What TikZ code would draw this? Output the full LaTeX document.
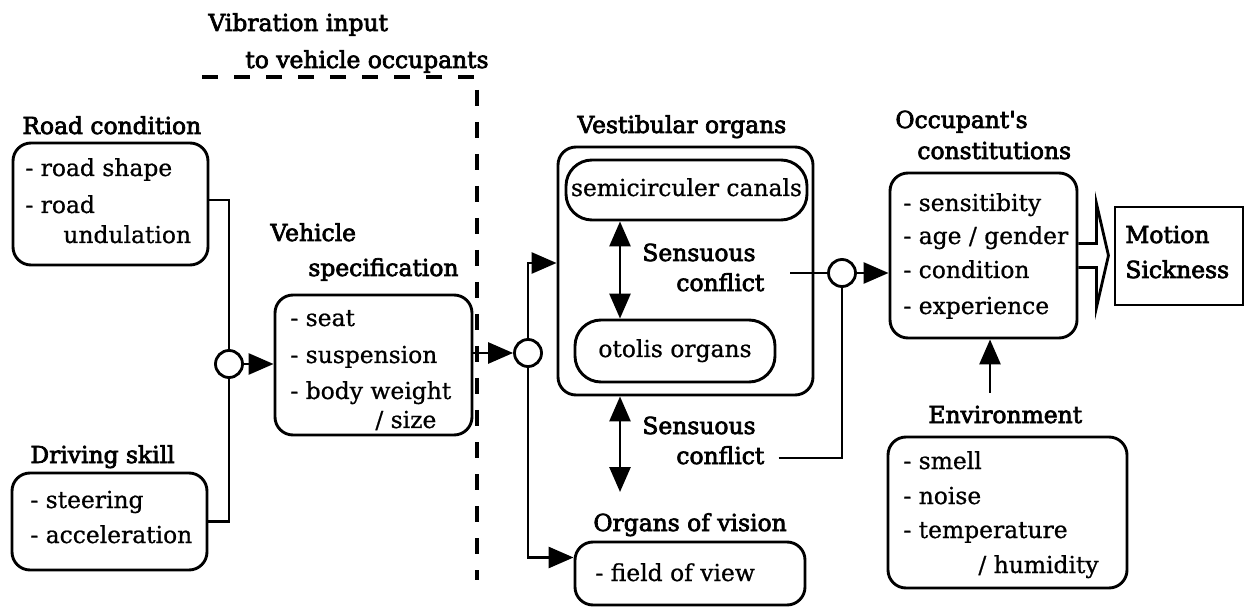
\documentclass[tikz,border=0pt]{standalone}
\usepackage{fontspec}
\setmainfont{DejaVu Serif}
\newfontfamily\itemfont{DejaVu Serif}[FakeBold=0.8]
\newfontfamily\titlefont{DejaVu Serif}[FakeBold=3]
\usetikzlibrary{arrows.meta,fit,calc}
\tikzset{
 rbox/.style={draw, line width=1.45pt, rounded corners=9pt, inner sep=0pt},
 pill/.style={draw, line width=1.45pt, rounded corners=13pt, inner sep=0pt},
 sbox/.style={draw, line width=1.45pt, inner sep=0pt},
 itm/.style={anchor=west, inner sep=0pt, font=\itemfont\fontsize{11.7pt}{14pt}\selectfont, text height=8.5pt, text depth=2.5pt},
 ttl/.style={itm, font=\titlefont\fontsize{11.7pt}{14pt}\selectfont},
 conn/.style={line width=1.4pt},
 arr/.style={conn, -{Triangle[length=12.5pt,width=10.5pt]}},
 darr/.style={conn, {Triangle[length=12.5pt,width=10.5pt]}-{Triangle[length=12.5pt,width=10.5pt]}},
 jn/.style={circle, draw, line width=1.4pt, fill=white, minimum size=13.5pt, inner sep=0pt},
 dsh/.style={line width=1.6pt, dash pattern=on 8pt off 8pt},
}
\begin{document}
\begin{tikzpicture}[x=0.5pt,y=-0.5pt]
\useasboundingbox (0,0) rectangle (1245,608);
% dashed boundary
\node[ttl] (vib1) at (208,25) {Vibration input};
\node[ttl] (vib2) at (245,62) {to vehicle occupants};
\coordinate (d1) at (202,77);
\coordinate (d2) at (477,77);
\coordinate (d3) at (477,580);
\draw[dsh] (d1) -- (d2) -- (d3);
% boxes
\node[rbox, fit={(13,143)(208,265)}] (road) {};
\node[rbox, fit={(12,473)(207,570)}] (drive) {};
\node[rbox, fit={(275,295)(472,435)}] (veh) {};
\node[rbox, fit={(558,147)(813,395)}] (vest) {};
\node[pill, fit={(566,160)(807,220)}] (semi) {};
\node[pill, fit={(575,320)(775,382)}] (oto) {};
\node[rbox, fit={(575,542)(805,605)}] (vis) {};
\node[rbox, fit={(890,173)(1077,338)}] (occ) {};
\node[rbox, fit={(888,437)(1127,588)}] (env) {};
\node[sbox, fit={(1115,207)(1243,305)}] (ms) {};
% titles
\node[ttl] (roadT) at (22,128) {Road condition};
\node[ttl] (driveT) at (30,457) {Driving skill};
\node[ttl] (vehT1) at (270,235) {Vehicle};
\node[ttl] (vehT2) at (308,270) {specification};
\node[ttl] (vestT) at (577,127) {Vestibular organs};
\node[ttl] (visT) at (593,525) {Organs of vision};
\node[ttl] (occT1) at (895,122) {Occupant\symbol{39}s};
\node[ttl] (occT2) at (917,153) {constitutions};
\node[ttl] (envT) at (928,417) {Environment};
\node[ttl] (sen1) at (642,255) {Sensuous};
\node[ttl] (conf1) at (676,285) {conflict};
\node[ttl] (sen2) at (642,428) {Sensuous};
\node[ttl] (conf2) at (676,458) {conflict};
\node[ttl] (ms1) at (1125,237) {Motion};
\node[ttl] (ms2) at (1125,272) {Sickness};
% items
\node[itm] (r1) at (25,170) {- road shape};
\node[itm] (r2) at (25,207) {- road};
\node[itm] (r3) at (63,237) {undulation};
\node[itm] (dr1) at (30,502) {- steering};
\node[itm] (dr2) at (30,537) {- acceleration};
\node[itm] (v1) at (290,320) {- seat};
\node[itm] (v2) at (290,357) {- suspension};
\node[itm] (v3) at (290,393) {- body weight};
\node[itm] (v4) at (375,422) {/ size};
\node[itm, anchor=center] (semiT) at (semi) {semicirculer canals};
\node[itm, anchor=center] (otoT) at (oto) {otolis organs};
\node[itm] (vi1) at (595,575) {- field of view};
\node[itm] (o1) at (903,205) {- sensitibity};
\node[itm] (o2) at (903,238) {- age / gender};
\node[itm] (o3) at (903,272) {- condition};
\node[itm] (o4) at (903,308) {- experience};
\node[itm] (e1) at (903,463) {- smell};
\node[itm] (e2) at (903,498) {- noise};
\node[itm] (e3) at (903,532) {- temperature};
\node[itm] (e4) at (978,567) {/ humidity};
% junctions
\node[jn] (c1) at (229,364) {};
\node[jn] (c2) at (528,353) {};
\node[jn] (c3) at (842,273) {};
% connectors
\draw[conn] ([yshift=2pt]road.east) -| (c1.north);
\draw[conn] (drive.east) -| (c1.south);
\draw[arr] (c1.east) -- (c1.east -| veh.west);
\draw[arr] (veh.east |- c2.west) -- (c2.west);
\draw[arr] (c2.north) |- ([yshift=4pt]vest.west);
\draw[arr] (c2.south) |- ([yshift=8pt]vis.west);
\coordinate (ax) at (620,0);
\draw[darr] (ax |- semi.south) -- (ax |- oto.north);
\coordinate (axe) at (620,492);
\draw[darr] (ax |- vest.south) -- (axe);
\coordinate (s1) at (790,273);
\draw[conn] (s1) -- (c3.west);
\draw[arr] (c3.east) -- (c3.east -| occ.west);
\draw[conn] ([xshift=7pt]conf2.east) -| (c3.south);
\coordinate (ea) at (990,393);
\draw[arr] (ea) -- (ea |- occ.south);
% hollow arrow
\draw[conn, line join=miter] ($(occ.east)+(0,-12)$) -- ++(18,0) -- ++(0,-40) -- ++(12,52) -- ++(-12,52) -- ++(0,-40) -- ++(-18,0);
\end{tikzpicture}
\end{document}
